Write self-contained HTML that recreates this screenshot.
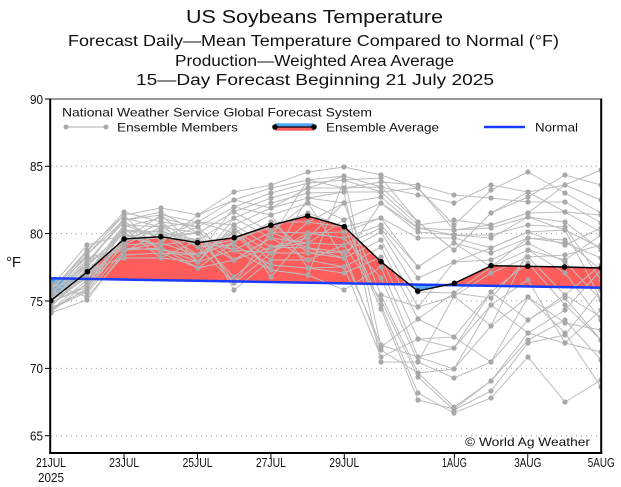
<!DOCTYPE html>
<html><head><meta charset="utf-8"><style>
html,body{margin:0;padding:0;background:#fff;}
svg{display:block;}
text{font-family:"Liberation Sans",sans-serif;fill:#111;}
</style></head><body>
<svg width="621" height="487" viewBox="0 0 621 487" xmlns="http://www.w3.org/2000/svg">
<defs>
<clipPath id="plot"><rect x="50.7" y="99" width="550.5" height="354"/></clipPath>
<clipPath id="above"><polygon points="50.7,90 601.2,90 601.2,287.7 50.7,278.3"/></clipPath>
<clipPath id="below"><polygon points="50.7,278.3 601.2,287.7 601.2,460 50.7,460"/></clipPath>
<marker id="gd" markerUnits="userSpaceOnUse" markerWidth="8" markerHeight="8" refX="4" refY="4"><circle cx="4" cy="4" r="2.6" fill="#a8a8a8"/></marker>
<marker id="bd" markerUnits="userSpaceOnUse" markerWidth="8" markerHeight="8" refX="4" refY="4"><circle cx="4" cy="4" r="2.8" fill="#000"/></marker>
</defs>

<!-- titles -->
<text x="314.5" y="23" font-size="18" text-anchor="middle" textLength="257" lengthAdjust="spacingAndGlyphs">US Soybeans Temperature</text>
<text x="313.5" y="46" font-size="15.5" text-anchor="middle" textLength="491" lengthAdjust="spacingAndGlyphs">Forecast Daily—Mean Temperature Compared to Normal (°F)</text>
<text x="314.5" y="66" font-size="15.5" text-anchor="middle" textLength="279" lengthAdjust="spacingAndGlyphs">Production—Weighted Area Average</text>
<text x="315" y="85" font-size="15.5" text-anchor="middle" textLength="358" lengthAdjust="spacingAndGlyphs">15—Day Forecast Beginning 21 July 2025</text>

<!-- grid -->
<g stroke="#999" stroke-width="1" stroke-dasharray="1,4">
<line x1="51" y1="166.3" x2="601" y2="166.3"/>
<line x1="51" y1="233.6" x2="601" y2="233.6"/>
<line x1="51" y1="301" x2="601" y2="301"/>
<line x1="51" y1="368.4" x2="601" y2="368.4"/>
<line x1="51" y1="435.7" x2="601" y2="435.7"/>
</g>

<g clip-path="url(#plot)">
<!-- fill -->
<g>
<polygon clip-path="url(#above)" fill="#ff5c5c" points="50.7,300.7 87.4,271.7 124.1,239 160.8,236.7 197.5,242.7 234.2,237.7 270.9,225.3 307.6,216 344.3,226.7 381,261.7 417.7,291 454.4,283.3 491.1,265.7 527.8,266.3 564.5,267 601.2,268 601.2,287.7 50.7,278.3"/>
<polygon clip-path="url(#below)" fill="#4ea6f2" points="50.7,300.7 87.4,271.7 124.1,239 160.8,236.7 197.5,242.7 234.2,237.7 270.9,225.3 307.6,216 344.3,226.7 381,261.7 417.7,291 454.4,283.3 491.1,265.7 527.8,266.3 564.5,267 601.2,268 601.2,287.7 50.7,278.3"/>
</g>
<!-- members -->
<g fill="none" stroke="#bcbcbc" stroke-width="1" marker-start="url(#gd)" marker-mid="url(#gd)" marker-end="url(#gd)">
<polyline points="51,300 87,262 124,220 161,215 198,222 234,200 271,188 308,180 344,176 381,187 418,195 454,203 491,185 528,192 565,185 601,170"/>
<polyline points="51,295 87,255 124,215 161,208 198,215 234,192 271,185 308,172 344,167 381,175 418,188 454,225 491,190 528,172 565,193 601,213"/>
<polyline points="51,290 87,252 124,212 161,222 198,227 234,207 271,193 308,183 344,180 381,178 418,222 454,250 491,213 528,197 565,175 601,185"/>
<polyline points="51,305 87,273 124,225 161,227 198,233 234,212 271,198 308,188 344,188 381,182 418,185 454,195 491,198 528,202 565,202 601,223"/>
<polyline points="51,298 87,267 124,230 161,232 198,240 234,218 271,203 308,193 344,192 381,192 418,225 454,220 491,225 528,213 565,212 601,232"/>
<polyline points="51,287 87,245 124,235 161,238 198,222 234,225 271,208 308,198 344,203 381,197 418,228 454,230 491,228 528,217 565,222 601,250"/>
<polyline points="51,310 87,280 124,240 161,215 198,247 234,233 271,215 308,203 344,220 381,203 418,232 454,235 491,235 528,225 565,227 601,280"/>
<polyline points="51,302 87,287 124,245 161,243 198,255 234,242 271,222 308,222 344,227 381,218 418,238 454,238 491,248 528,232 565,230 601,300"/>
<polyline points="51,293 87,293 124,250 161,248 198,262 234,250 271,232 308,233 344,238 381,225 418,267 454,243 491,253 528,238 565,240 601,270"/>
<polyline points="51,284 87,297 124,255 161,253 198,268 234,260 271,238 308,243 344,245 381,228 418,278 454,262 491,260 528,243 565,262 601,300"/>
<polyline points="51,299 87,270 124,258 161,258 198,240 234,277 271,247 308,248 344,252 381,232 418,292 454,293 491,267 528,250 565,273 601,320"/>
<polyline points="51,306 87,275 124,230 161,235 198,233 234,283 271,253 308,253 344,258 381,240 418,307 454,296 491,273 528,257 565,295 601,317"/>
<polyline points="51,296 87,262 124,222 161,240 198,227 234,290 271,260 308,260 344,267 381,247 418,319 454,337 491,292 528,263 565,305 601,340"/>
<polyline points="51,312 87,283 124,238 161,230 198,247 234,245 271,265 308,268 344,273 381,257 418,339 454,348 491,305 528,280 565,343 601,352"/>
<polyline points="51,289 87,258 124,248 161,250 198,255 234,233 271,270 308,275 344,290 381,267 418,357 454,369 491,326 528,297 565,333 601,387"/>
<polyline points="51,304 87,277 124,243 161,222 198,262 234,225 271,277 308,233 344,238 381,278 418,362 454,378 491,362 528,320 565,298 601,340"/>
<polyline points="51,308 87,290 124,235 161,245 198,240 234,250 271,253 308,222 344,203 381,295 418,373 454,407 491,381 528,333 565,343 601,310"/>
<polyline points="51,313 87,300 124,252 161,232 198,262 234,218 271,238 308,260 344,245 381,300 418,377 454,410 491,391 528,343 565,335 601,290"/>
<polyline points="51,286 87,280 124,227 161,218 198,227 234,260 271,247 308,243 344,220 381,305 418,393 454,413 491,398 528,357 565,402 601,380"/>
<polyline points="51,300 87,265 124,218 161,227 198,247 234,240 271,227 308,213 344,227 381,309 418,400 454,409 491,381 528,340 565,320 601,360"/>
<polyline points="51,303 87,285 124,240 161,238 198,233 234,212 271,232 308,248 344,258 381,345 418,357 454,348 491,292 528,320 565,295 601,265"/>
<polyline points="51,297 87,272 124,233 161,248 198,268 234,242 271,222 308,253 344,252 381,350 418,373 454,369 491,305 528,333 565,310 601,270"/>
<polyline points="51,291 87,250 124,215 161,253 198,255 234,207 271,215 308,268 344,267 381,357 418,339 454,337 491,362 528,297 565,323 601,330"/>
<polyline points="51,307 87,268 124,245 161,227 198,222 234,233 271,260 308,198 344,192 381,362 418,362 454,296 491,326 528,250 565,260 601,235"/>
<polyline points="51,294 87,260 124,250 161,243 198,215 234,200 271,208 308,188 344,176 381,347 418,319 454,293 491,298 528,257 565,255 601,245"/>
<polyline points="51,311 87,288 124,228 161,258 198,262 234,225 271,247 308,238 344,203 381,295 418,307 454,262 491,248 528,232 565,245 601,228"/>
<polyline points="51,288 87,255 124,220 161,212 198,233 234,250 271,270 308,275 344,180 381,192 418,188 454,230 491,225 528,213 565,185 601,200"/>
<polyline points="51,301 87,278 124,225 161,238 198,240 234,260 271,238 308,180 344,188 381,187 418,222 454,250 491,213 528,192 565,212 601,215"/>
<polyline points="51,309 87,292 124,242 161,222 198,247 234,283 271,232 308,203 344,258 381,203 418,228 454,235 491,238 528,217 565,230 601,248"/>
<polyline points="51,292 87,265 124,232 161,232 198,255 234,230 271,253 308,233 344,232 381,218 418,267 454,243 491,267 528,238 565,243 601,258"/>
</g>
<!-- normal -->
<line x1="50.7" y1="278.3" x2="601.2" y2="287.7" stroke="#1a3cff" stroke-width="2.5"/>
<!-- ensemble average -->
<polyline fill="none" stroke="#000" stroke-width="1.4" marker-start="url(#bd)" marker-mid="url(#bd)" marker-end="url(#bd)" points="50.7,300.7 87.4,271.7 124.1,239 160.8,236.7 197.5,242.7 234.2,237.7 270.9,225.3 307.6,216 344.3,226.7 381,261.7 417.7,291 454.4,283.3 491.1,265.7 527.8,266.3 564.5,267 601.2,268"/>
</g>

<!-- frame -->
<line x1="50.7" y1="99" x2="601.2" y2="99" stroke="#333" stroke-width="1"/>
<line x1="50.2" y1="98.5" x2="50.2" y2="453.5" stroke="#000" stroke-width="2"/>
<line x1="49.2" y1="453" x2="602.2" y2="453" stroke="#000" stroke-width="2"/>
<line x1="601.2" y1="98.5" x2="601.2" y2="454" stroke="#000" stroke-width="2"/>

<!-- y ticks -->
<g stroke="#000" stroke-width="1">
<line x1="45" y1="99" x2="50" y2="99"/>
<line x1="45" y1="166.3" x2="50" y2="166.3"/>
<line x1="45" y1="233.6" x2="50" y2="233.6"/>
<line x1="45" y1="301" x2="50" y2="301"/>
<line x1="45" y1="368.4" x2="50" y2="368.4"/>
<line x1="45" y1="435.7" x2="50" y2="435.7"/>
</g>
<g font-size="13" text-anchor="end">
<text x="43" y="104" textLength="13" lengthAdjust="spacingAndGlyphs">90</text>
<text x="43" y="171" textLength="13" lengthAdjust="spacingAndGlyphs">85</text>
<text x="43" y="238.5" textLength="13" lengthAdjust="spacingAndGlyphs">80</text>
<text x="43" y="306" textLength="13" lengthAdjust="spacingAndGlyphs">75</text>
<text x="43" y="373" textLength="13" lengthAdjust="spacingAndGlyphs">70</text>
<text x="43" y="440.5" textLength="13" lengthAdjust="spacingAndGlyphs">65</text>
</g>
<text x="6" y="267" font-size="15" textLength="15" lengthAdjust="spacingAndGlyphs">°F</text>

<!-- x ticks -->
<g stroke="#000" stroke-width="1">
<line x1="124.1" y1="453" x2="124.1" y2="458"/>
<line x1="197.5" y1="453" x2="197.5" y2="458"/>
<line x1="270.9" y1="453" x2="270.9" y2="458"/>
<line x1="344.3" y1="453" x2="344.3" y2="458"/>
<line x1="454.4" y1="453" x2="454.4" y2="458"/>
<line x1="527.8" y1="453" x2="527.8" y2="458"/>
</g>
<g font-size="12.5" text-anchor="middle">
<text x="51" y="467" textLength="30" lengthAdjust="spacingAndGlyphs">21JUL</text>
<text x="51" y="482" textLength="26" lengthAdjust="spacingAndGlyphs">2025</text>
<text x="124.1" y="467" textLength="30" lengthAdjust="spacingAndGlyphs">23JUL</text>
<text x="197.5" y="467" textLength="30" lengthAdjust="spacingAndGlyphs">25JUL</text>
<text x="270.9" y="467" textLength="30" lengthAdjust="spacingAndGlyphs">27JUL</text>
<text x="344.3" y="467" textLength="30" lengthAdjust="spacingAndGlyphs">29JUL</text>
<text x="454.4" y="467" textLength="25" lengthAdjust="spacingAndGlyphs">1AUG</text>
<text x="527.8" y="467" textLength="27" lengthAdjust="spacingAndGlyphs">3AUG</text>
<text x="601.2" y="467" textLength="27" lengthAdjust="spacingAndGlyphs">5AUG</text>
</g>

<!-- legend -->
<text x="62" y="116.5" font-size="12" textLength="310" lengthAdjust="spacingAndGlyphs">National Weather Service Global Forecast System</text>
<line x1="66" y1="127" x2="106" y2="127" stroke="#a8a8a8" stroke-width="1"/>
<circle cx="66" cy="127" r="2.5" fill="#a8a8a8"/>
<circle cx="106" cy="127" r="2.5" fill="#a8a8a8"/>
<text x="117" y="131.5" font-size="12" textLength="121" lengthAdjust="spacingAndGlyphs">Ensemble Members</text>
<rect x="275" y="123.3" width="39" height="3.7" fill="#4ea6f2"/>
<rect x="275" y="127" width="39" height="3.7" fill="#ff5c5c"/>
<line x1="275" y1="127" x2="314" y2="127" stroke="#000" stroke-width="1.2"/>
<circle cx="275" cy="127" r="2.8" fill="#000"/>
<circle cx="314" cy="127" r="2.8" fill="#000"/>
<text x="326" y="131.5" font-size="12" textLength="113" lengthAdjust="spacingAndGlyphs">Ensemble Average</text>
<line x1="484" y1="127" x2="525" y2="127" stroke="#1a3cff" stroke-width="2.5"/>
<text x="535" y="131.5" font-size="12" textLength="43" lengthAdjust="spacingAndGlyphs">Normal</text>

<text x="465" y="446" font-size="12" textLength="125" lengthAdjust="spacingAndGlyphs">© World Ag Weather</text>
</svg>
</body></html>
